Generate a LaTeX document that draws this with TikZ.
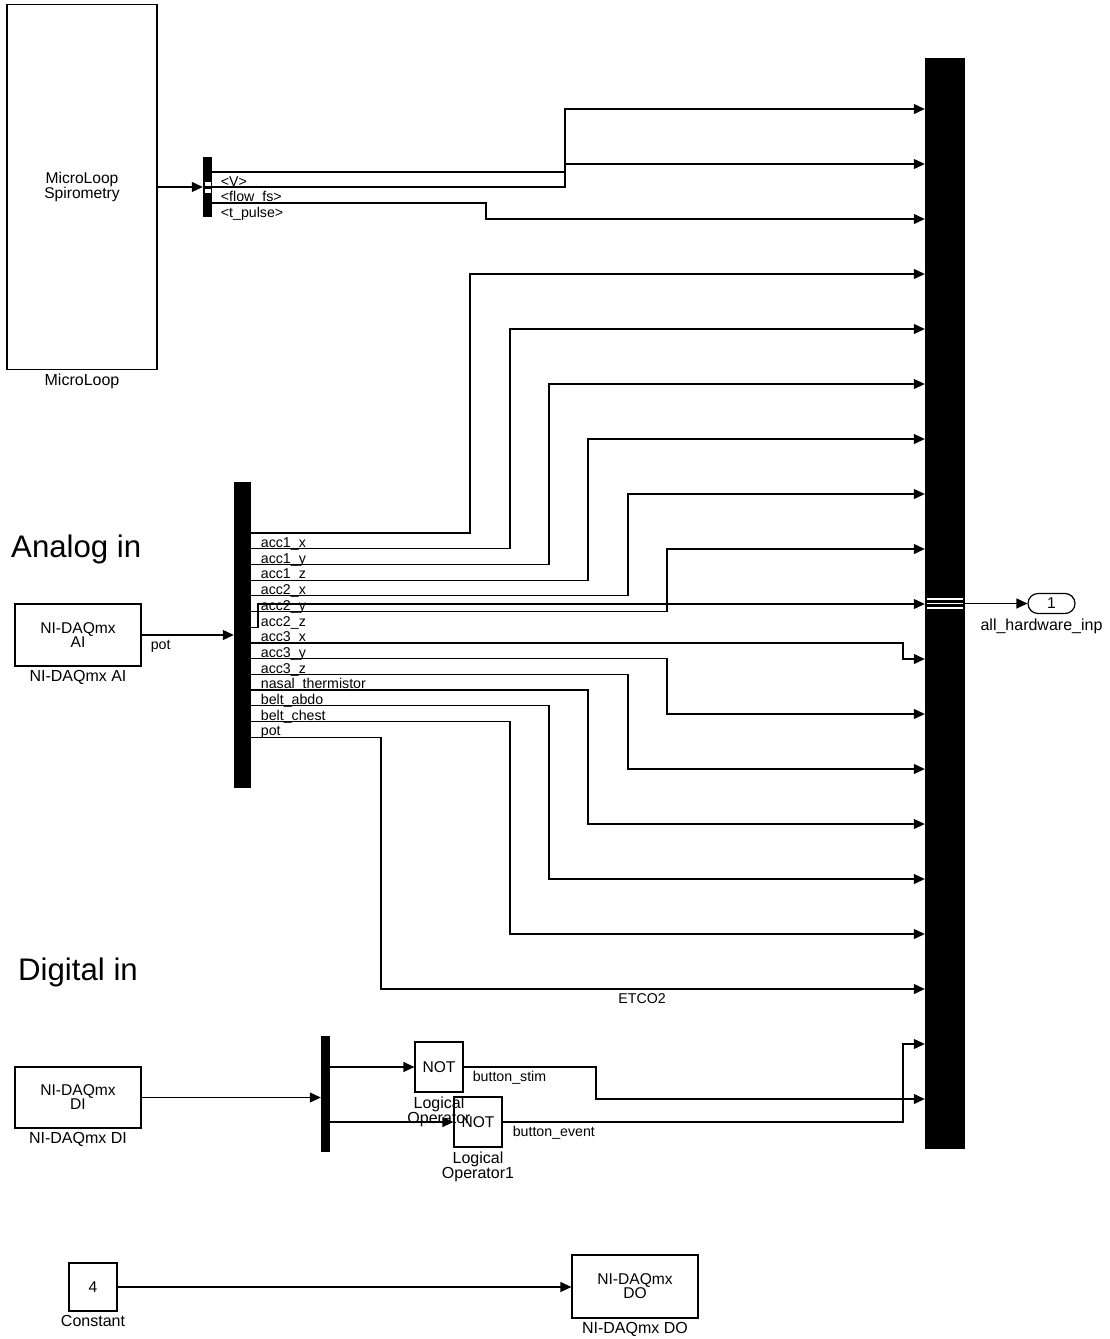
\documentclass[tikz,border=0pt]{standalone}
\usepackage{fontspec}
\setmainfont{Liberation Sans}
\usetikzlibrary{arrows.meta, positioning}
\newcommand{\lblfont}{\fontsize{14.2}{15}\selectfont}
\newcommand{\namefont}{\fontsize{16}{15}\selectfont}
\newcommand{\blkfont}{\fontsize{15.6}{14}\selectfont}
\newcommand{\bigfont}{\fontsize{31.2}{36}\selectfont}

\begin{document}
\begin{tikzpicture}[
    x=1pt, y=-1pt,
    >={Triangle[length=11pt, width=10pt]},
    sig/.style={->, line width=1.2pt},
    blk/.style={draw, line width=1.2pt, font=\blkfont, align=center, inner sep=0pt},
    bar/.style={fill=black, draw=none, inner sep=0pt},
    lbl/.style={font=\lblfont, inner sep=1pt},
    sl/.style={lbl, anchor=base west},
    blkname/.style={font=\namefont, align=center, inner sep=1pt},
    heading/.style={font=\bigfont, anchor=base west, inner sep=0pt},
]
\useasboundingbox (0,0) rectangle (1110,1339);
% === MicroLoop ===
\node[blk, minimum width=150pt, minimum height=365pt] (ml) at (82,187) {MicroLoop\\Spirometry};
\node[blkname, below=3pt of ml] (mlname) {MicroLoop};
\node[bar, minimum width=9pt, minimum height=60pt] (sel) at (207.5,187) {};
\fill[white] (205,182) rectangle (211,185.5);
\fill[white] (205,188.5) rectangle (211,192.5);
\draw[sig] (ml.east) -- (sel.west);
\coordinate (s1) at (sel.east |- 0,172);
\coordinate (s2) at (sel.east |- 0,187);
\coordinate (s3) at (sel.east |- 0,203);
\node[sl] at ([xshift=7.5pt, yshift=-14.5pt]s1) {<V>};
\node[sl] at ([xshift=7.5pt, yshift=-14.5pt]s2) {<flow\_fs>};
\node[sl] at ([xshift=7.5pt, yshift=-14.5pt]s3) {<t\_pulse>};
% === Bus creator ===
\node[bar, minimum width=40pt, minimum height=1091pt] (mux) at (945,603.5) {};
\foreach \i in {1,...,19}
    \coordinate (in\i) at (mux.west |- 0,{109+55*(\i-1)});
\foreach \yy in {599,603.5,608}
    \draw[white, line width=1.5pt] (927,\yy) -- (963,\yy);
\node[draw, line width=1.2pt, rounded corners=10pt, minimum width=47pt, minimum height=20pt, font=\blkfont, inner sep=0pt] (out) at (1051.5,603.5) {1};
\node[blkname, below=4pt of out, xshift=-10pt] (outname) {all\_hardware\_inp};
\draw[sig] (out.west -| mux.east) -- (out.west);
\draw[sig] (s1) -- (s1 -| 565,0) |- (in1);
\draw[sig] (s2) -- (s2 -| 565,0) |- (in2);
\draw[sig] (s3) -- (s3 -| 486,0) |- (in3);
% === Analog in ===
\node[heading] (atitle) at (11,557) {Analog in};
\node[blk, minimum width=126pt, minimum height=62pt] (ai) at (78,635) {NI-DAQmx\\AI};
\node[blkname, below=3pt of ai] (ainame) {NI-DAQmx AI};
\node[bar, minimum width=17pt, minimum height=306pt] (dm) at (242.5,635) {};
\draw[sig] (ai.east) -- (ai.east -| dm.west);
\node[sl] at ([xshift=8pt, yshift=-14pt]ai.east) {pot};
\foreach \k [evaluate=\k as \yy using {533+15.7*\k}] in {0,...,13}
    \coordinate (o\k) at (dm.east |- 0,\yy);
\foreach \t [count=\k from 0] in {acc1\_x, acc1\_y, acc1\_z, acc2\_x, acc2\_y, acc2\_z, acc3\_x, acc3\_y, acc3\_z, nasal\_thermistor, belt\_abdo, belt\_chest, pot}
    \node[sl] at ([xshift=8.5pt, yshift=-14.5pt]o\k) {\t};
\foreach \k/\xc/\i in {0/470/4, 1/510/5, 2/549/6, 3/588/7, 4/628/8, 5/667/9, 7/903/11, 8/667/12, 9/628/13, 10/588/14, 11/549/15, 12/510/16}
    \draw[sig] (o\k) -- (o\k -| \xc,0) |- (in\i);
\draw[sig] (o6) -- (o6 -| 258,0) |- (in10);
\draw[sig] (o13) -- (o13 -| 381,0) |- node[lbl, pos=0.74, anchor=base, yshift=-14pt] {ETCO2} (in17);
% === Digital in ===
\node[heading] (dtitle) at (18,980) {Digital in};
\node[blk, minimum width=126pt, minimum height=61pt] (di) at (78,1097.5) {NI-DAQmx\\DI};
\node[blkname, below=3pt of di] (diname) {NI-DAQmx DI};
\node[bar, minimum width=9pt, minimum height=116pt] (dm2) at (325.5,1094) {};
\draw[sig] (di.east) -- (di.east -| dm2.west);
\node[blk, minimum width=48pt, minimum height=50pt] (not1) at (439,1067) {NOT};
\node[blkname, below=3pt of not1] (not1name) {Logical\\Operator};
\node[blk, minimum width=48pt, minimum height=50pt] (not2) at (478,1122) {NOT};
\node[blkname, below=3pt of not2] (not2name) {Logical\\Operator1};
\draw[sig] (not1.west -| dm2.east) -- (not1.west);
\draw[sig] (not2.west -| dm2.east) -- (not2.west);
\draw[sig] (not1.east) -- (not1.east -| 596,0) |- (in19);
\draw[sig] (not2.east) -- (not2.east -| 903,0) |- (in18);
\node[sl] at ([xshift=8pt, yshift=-14.5pt]not1.east) {button\_stim};
\node[sl] at ([xshift=9pt, yshift=-14.5pt]not2.east) {button\_event};
% === Constant -> DO ===
\node[blk, minimum size=48pt] (const) at (93,1287) {4};
\node[blkname, below=3pt of const] (constname) {Constant};
\node[blk, minimum width=126pt, minimum height=63pt] (do) at (635,1286.5) {NI-DAQmx\\DO};
\node[blkname, below=3pt of do] (doname) {NI-DAQmx DO};
\draw[sig] (const) -- (const -| do.west);
\end{tikzpicture}
\end{document}
